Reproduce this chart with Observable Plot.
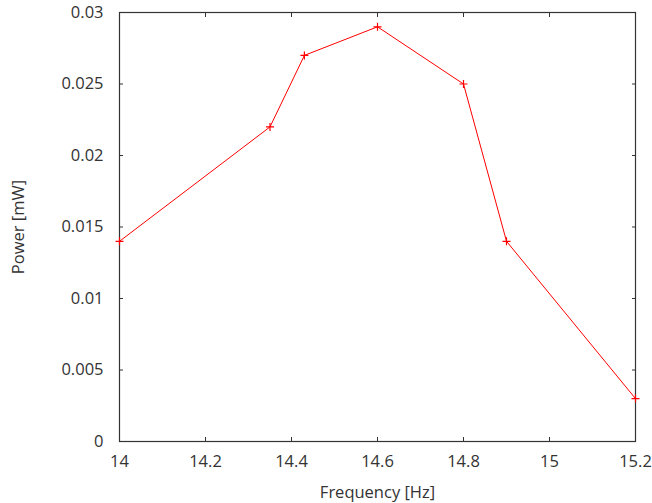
<!DOCTYPE html>
<html>
<head>
<meta charset="utf-8">
<script src="https://cdn.jsdelivr.net/npm/d3@7"></script>
<script src="https://cdn.jsdelivr.net/npm/@observablehq/plot@0.6"></script>
<style>
  html, body { margin: 0; padding: 0; background: #fff; }
</style>
</head>
<body>
<div id="chart"></div>
<script>
const frequency = [14, 14.35, 14.43, 14.6, 14.8, 14.9, 15.2];
const power = [0.014, 0.022, 0.027, 0.029, 0.025, 0.014, 0.003];
const xTicks = [14, 14.2, 14.4, 14.6, 14.8, 15, 15.2];
const yTicks = [0, 0.005, 0.01, 0.015, 0.02, 0.025, 0.03];

const data = frequency.map((f, i) => ({f, p: power[i]}));

const plusSymbol = {
  draw(ctx, size) {
    const r = 4;
    ctx.moveTo(-r, 0); ctx.lineTo(r, 0);
    ctx.moveTo(0, -r); ctx.lineTo(0, r);
  }
};

const fmtX = d => String(+d.toFixed(1));
const fmtY = d => String(+d.toFixed(3));

const chart = Plot.plot({
  width: 652,
  height: 503,
  marginLeft: 119,
  marginRight: 17,
  marginTop: 12,
  marginBottom: 62,
  style: {fontFamily: "'Open Sans'", fontSize: "16.5px", color: "#333", background: "#fff"},
  x: {domain: [14, 15.2]},
  y: {domain: [0, 0.03]},
  marks: [
    Plot.axisX({anchor: "bottom", ticks: xTicks, tickSize: 0, tickPadding: 14, tickFormat: fmtX,
      label: "Frequency [Hz]", labelAnchor: "center", labelArrow: "none", labelOffset: 56, fill: "#333"}),
    Plot.axisX({anchor: "bottom", ticks: xTicks, tickSize: -4, tickFormat: () => "", label: null, stroke: "#333"}),
    Plot.axisX({anchor: "top", ticks: xTicks, tickSize: -4, tickFormat: () => "", label: null, stroke: "#333"}),
    Plot.axisY({anchor: "left", ticks: yTicks, tickSize: 0, tickPadding: 16, tickFormat: fmtY,
      label: "Power [mW]", labelAnchor: "center", labelArrow: "none", labelOffset: 107, fill: "#333"}),
    Plot.axisY({anchor: "left", ticks: yTicks, tickSize: -4, tickFormat: () => "", label: null, stroke: "#333"}),
    Plot.axisY({anchor: "right", ticks: yTicks, tickSize: -4, tickFormat: () => "", label: null, stroke: "#333"}),
    Plot.frame({stroke: "#333", strokeWidth: 1.2}),
    Plot.line(data, {x: "f", y: "p", stroke: "#ff0000", strokeWidth: 1}),
    Plot.dot(data, {x: "f", y: "p", symbol: plusSymbol, stroke: "#ff0000", fill: "none", strokeWidth: 1.2})
  ]
});
document.getElementById("chart").appendChild(chart);
</script>
</body>
</html>
